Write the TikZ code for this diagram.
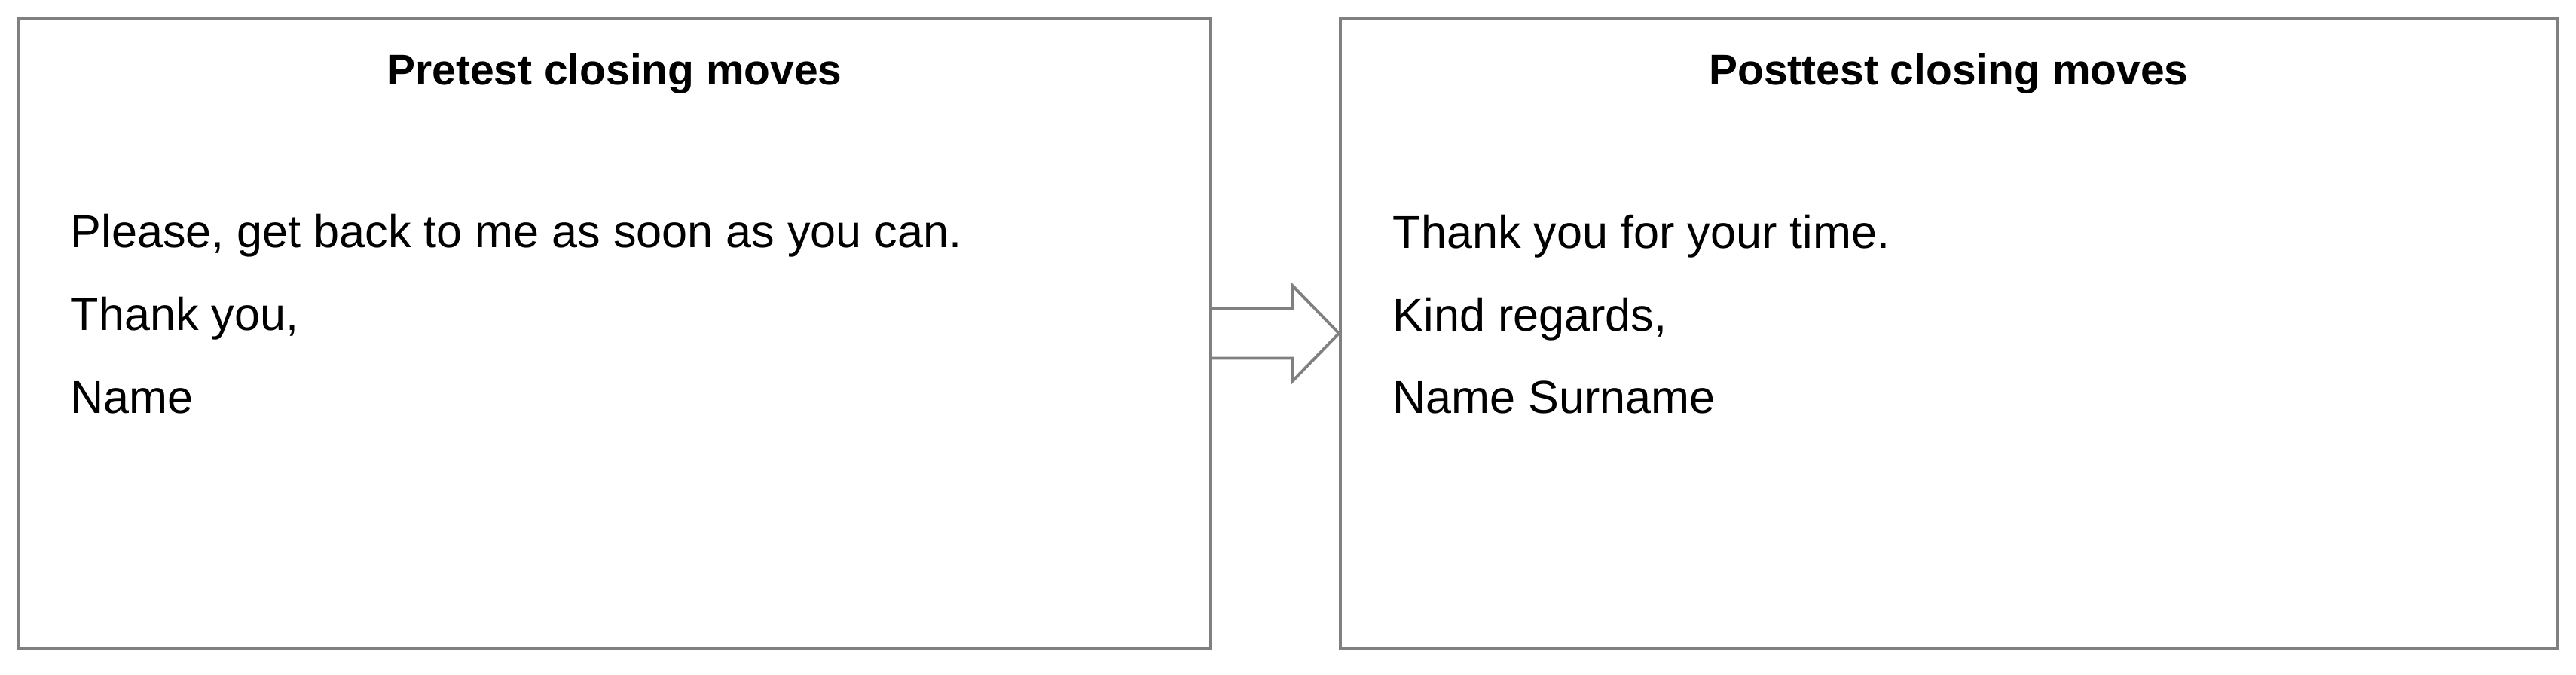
\documentclass[tikz,border=0pt]{standalone}
\usepackage{fontspec}
\setmainfont{Liberation Sans}
\usetikzlibrary{calc, positioning}

\begin{document}
\begin{tikzpicture}[
    panel/.style={draw=black!50, line width=1.1pt, minimum height=8.37cm, inner sep=0pt},
    heading/.style={anchor=base, inner sep=0pt, font=\fontsize{16.2pt}{19pt}\selectfont\bfseries},
    line/.style={anchor=base west, inner sep=0pt, font=\fontsize{17.4pt}{21pt}\selectfont},
    blockarrow/.style={draw=black!50, line width=1.1pt, fill=white, line join=miter}
]
\useasboundingbox (0,0) rectangle (34.19,-8.95);

% Panels
\node[panel, minimum width=15.83cm] (pre) at (8.155,-4.425) {};
\node[panel, minimum width=16.15cm] (post) at (25.865,-4.425) {};

% Headings
\node[heading] (pretitle) at (8.155,-1.13) {Pretest closing moves};
\node[heading] (posttitle) at (25.865,-1.13) {Posttest closing moves};

% Pretest lines
\node[line] (pre1) at (0.93,-3.28) {Please, get back to me as soon as you can.};
\node[line] (pre2) at (0.93,-4.38) {Thank you,};
\node[line] (pre3) at (0.93,-5.48) {Name};

% Posttest lines
\node[line] (post1) at (18.48,-3.29) {Thank you for your time.};
\node[line] (post2) at (18.48,-4.39) {Kind regards,};
\node[line] (post3) at (18.48,-5.48) {Name Surname};

% Block arrow between panels
\draw[blockarrow] ($(pre.east)+(0,0.33)$) -- ($(pre.east)+(1.06,0.33)$)
    -- ($(pre.east)+(1.06,0.64)$) -- (post.west)
    -- ($(pre.east)+(1.06,-0.64)$) -- ($(pre.east)+(1.06,-0.33)$)
    -- ($(pre.east)+(0,-0.33)$);

\end{tikzpicture}
\end{document}
